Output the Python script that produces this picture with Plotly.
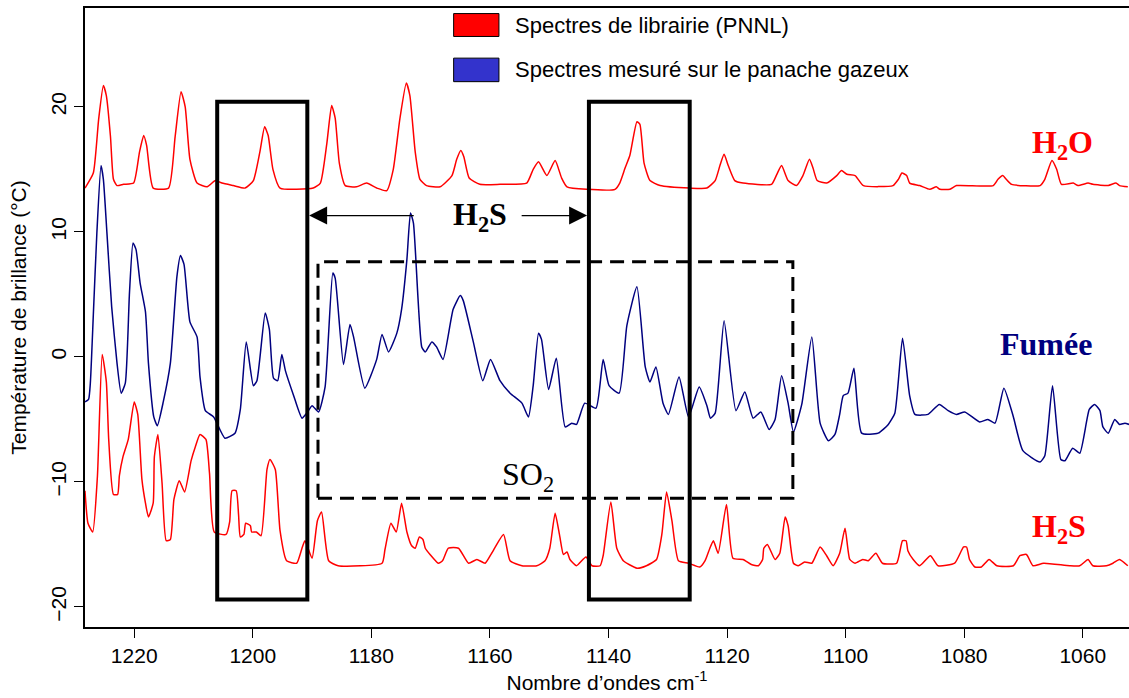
import plotly.graph_objects as go

# Nombre d'onde (cm-1), Température de brillance (°C)
h2o = [
    (1228.3, 13.5), (1226.9, 14.7), (1226.0, 19.0), (1225.2, 21.7), (1224.7, 20.9), (1224.0, 17.6),
    (1223.5, 14.2), (1222.9, 13.7), (1221.8, 13.8), (1220.1, 13.9), (1219.1, 16.4), (1218.4, 17.7),
    (1217.9, 16.9), (1216.8, 13.5), (1214.2, 13.5), (1213.1, 17.6), (1212.1, 21.2), (1211.4, 20.0),
    (1210.6, 15.8), (1209.4, 13.9), (1207.7, 13.6), (1206.3, 14.1), (1205.2, 13.9), (1203.3, 13.7),
    (1201.3, 13.5), (1199.9, 14.1), (1198.8, 16.4), (1198.0, 18.4), (1197.4, 17.7), (1196.6, 15.0),
    (1195.4, 13.5), (1189.8, 13.5), (1188.6, 13.9), (1187.5, 17.1), (1186.7, 20.1), (1186.1, 19.1),
    (1185.4, 15.5), (1184.4, 13.7), (1182.5, 13.6), (1180.8, 13.9), (1179.1, 13.5), (1177.4, 13.3),
    (1176.3, 15.0), (1175.2, 19.0), (1174.1, 21.9), (1173.5, 20.9), (1172.6, 16.4), (1171.8, 14.2),
    (1170.7, 13.7), (1168.4, 13.6), (1166.4, 14.5), (1165.6, 15.8), (1164.9, 16.5), (1164.4, 16.0),
    (1163.5, 14.3), (1161.7, 13.8), (1158.3, 13.8), (1153.8, 13.9), (1152.7, 15.0), (1151.8, 15.6),
    (1150.4, 14.5), (1149.0, 15.7), (1147.9, 14.3), (1147.0, 13.6), (1143.7, 13.4), (1138.9, 13.4),
    (1138.1, 13.9), (1137.2, 15.1), (1136.4, 16.1), (1135.2, 18.8), (1134.7, 18.6), (1134.0, 15.5),
    (1133.0, 14.1), (1131.3, 13.7), (1126.3, 13.5), (1123.4, 13.5), (1122.0, 14.1), (1121.2, 15.3),
    (1120.5, 16.2), (1119.8, 15.3), (1118.7, 14.1), (1117.3, 13.9), (1112.5, 13.8), (1111.6, 14.6),
    (1110.8, 15.3), (1109.7, 14.1), (1108.3, 13.7), (1107.2, 14.5), (1106.1, 15.8), (1105.5, 15.1),
    (1104.8, 14.1), (1103.2, 13.9), (1101.5, 14.5), (1100.7, 14.9), (1099.8, 14.6), (1098.4, 14.5),
    (1097.0, 13.7), (1092.0, 13.7), (1091.1, 14.2), (1090.5, 14.7), (1089.7, 14.5), (1089.2, 13.9),
    (1087.5, 13.7), (1085.8, 13.4), (1084.7, 13.6), (1084.1, 13.4), (1082.4, 13.4), (1081.3, 13.7),
    (1075.1, 13.7), (1074.3, 14.2), (1073.5, 14.5), (1072.9, 14.2), (1072.0, 13.8), (1067.2, 13.7),
    (1066.4, 14.2), (1065.2, 15.7), (1064.4, 15.0), (1063.6, 13.8), (1061.6, 13.9), (1060.8, 13.7),
    (1059.1, 13.9), (1058.3, 13.8), (1055.7, 13.7), (1054.4, 13.9), (1053.8, 13.7), (1052.4, 13.6),
]

fumee = [
    (1228.3, -3.6), (1227.7, -3.4), (1227.4, -2.1), (1226.9, 3.3), (1226.3, 9.9), (1225.6, 15.3),
    (1225.2, 14.2), (1224.6, 9.9), (1223.8, 4.0), (1222.9, -0.5), (1222.2, -2.9), (1221.5, -2.1),
    (1220.8, 5.1), (1220.2, 9.1), (1219.7, 8.6), (1219.0, 5.9), (1218.1, 3.6), (1217.6, -0.5),
    (1216.7, -4.8), (1216.1, -5.5), (1215.1, -3.6), (1213.9, -0.5), (1212.8, 6.4), (1212.2, 8.1),
    (1211.6, 7.4), (1210.6, 2.8), (1209.4, 1.6), (1208.9, -1.6), (1208.0, -4.3), (1206.6, -4.8),
    (1204.7, -6.5), (1203.0, -6.1), (1202.1, -4.2), (1201.1, 1.2), (1199.9, -2.3), (1199.3, -1.9),
    (1197.9, 3.5), (1197.2, 2.2), (1196.5, -1.7), (1195.8, -1.9), (1195.1, 0.2), (1194.5, -1.1),
    (1193.1, -3.1), (1191.7, -4.9), (1190.9, -4.5), (1190.0, -3.9), (1188.9, -4.4), (1187.8, -2.4),
    (1186.5, 6.7), (1186.1, 6.3), (1184.7, -0.6), (1183.6, 2.6), (1183.0, 1.6), (1181.1, -2.5),
    (1179.1, -0.2), (1178.2, 1.8), (1177.1, 0.4), (1175.7, 1.9), (1174.9, 3.8), (1174.0, 7.8),
    (1173.4, 11.5), (1172.9, 10.7), (1171.5, 0.8), (1170.9, 0.4), (1169.8, 1.2), (1169.0, 0.8),
    (1167.9, -0.2), (1166.2, 3.8), (1165.0, 4.9), (1164.5, 4.5), (1162.8, 1.2), (1161.2, -1.9),
    (1159.9, -0.2), (1158.3, -1.9), (1156.6, -2.9), (1154.6, -3.7), (1153.5, -4.8), (1152.7, -2.3),
    (1151.8, 1.9), (1151.3, 1.4), (1150.1, -2.6), (1148.8, -0.1), (1147.3, -5.6), (1146.2, -5.3),
    (1145.4, -5.4), (1144.0, -3.7), (1142.1, -4.1), (1140.9, -0.2), (1139.9, -2.3), (1138.2, -2.9),
    (1136.9, 2.5), (1135.2, 5.6), (1133.8, -0.8), (1133.0, -2.0), (1132.0, -0.8), (1130.8, -3.7),
    (1129.9, -4.6), (1128.1, -1.6), (1126.5, -4.8), (1124.7, -2.4), (1123.4, -3.9), (1122.8, -4.9),
    (1122.0, -4.5), (1120.5, 2.9), (1118.5, -4.3), (1117.0, -2.8), (1115.6, -4.9), (1114.3, -4.4),
    (1112.9, -5.8), (1111.9, -5.0), (1110.8, -1.5), (1109.7, -3.7), (1108.8, -6.0), (1107.4, -3.8),
    (1105.7, 1.6), (1104.3, -5.3), (1102.9, -6.7), (1101.8, -6.2), (1101.0, -4.6), (1100.4, -3.1),
    (1099.6, -2.9), (1098.6, -0.9), (1097.3, -6.1), (1094.5, -6.1), (1092.8, -5.4), (1091.7, -4.5),
    (1090.4, 1.5), (1089.2, -3.1), (1088.3, -4.6), (1086.1, -4.6), (1084.2, -3.8), (1082.7, -4.3),
    (1081.3, -4.6), (1079.9, -4.4), (1077.4, -5.2), (1076.0, -5.0), (1074.8, -5.3), (1073.3, -2.5),
    (1071.7, -4.8), (1070.1, -7.5), (1067.2, -8.4), (1066.4, -7.9), (1065.1, -2.3), (1063.7, -8.2),
    (1063.0, -8.3), (1061.7, -7.3), (1060.5, -7.7), (1058.9, -4.2), (1058.0, -3.8), (1057.1, -4.3),
    (1056.6, -5.6), (1055.7, -6.1), (1054.6, -5.0), (1053.8, -5.4), (1052.9, -5.3), (1052.2, -5.4),
]

h2s = [
    (1228.3, -10.7), (1227.8, -13.3), (1227.0, -14.0), (1226.2, -9.5), (1225.4, 0.2), (1224.7, -2.0),
    (1224.3, -6.6), (1223.5, -11.0), (1222.8, -11.0), (1222.5, -9.5), (1221.9, -8.0), (1221.0, -6.6),
    (1220.0, -3.6), (1219.4, -4.6), (1218.7, -9.8), (1218.1, -11.7), (1217.6, -12.8), (1216.8, -11.7),
    (1216.6, -8.0), (1216.0, -6.2), (1215.3, -10.1), (1214.6, -14.7), (1213.9, -14.6), (1213.3, -11.4),
    (1212.4, -9.9), (1211.5, -10.8), (1210.4, -8.3), (1209.7, -7.2), (1208.9, -6.2), (1207.9, -6.6),
    (1207.3, -9.3), (1206.5, -14.0), (1204.5, -14.2), (1203.9, -13.2), (1203.5, -10.7), (1202.8, -10.7),
    (1202.4, -12.6), (1202.1, -14.4), (1201.5, -14.2), (1201.2, -13.3), (1200.4, -13.5), (1200.2, -14.0),
    (1199.4, -14.0), (1198.6, -14.3), (1197.6, -9.0), (1197.1, -8.2), (1196.2, -9.0), (1195.4, -13.9),
    (1194.3, -16.3), (1192.6, -16.5), (1191.7, -15.3), (1191.2, -14.7), (1190.0, -16.1), (1189.1, -13.1),
    (1188.4, -12.4), (1187.2, -16.3), (1185.6, -16.7), (1178.2, -16.5), (1177.7, -15.4), (1176.7, -13.3),
    (1175.8, -14.0), (1174.9, -11.7), (1174.0, -14.0), (1173.2, -15.1), (1172.6, -15.3), (1171.9, -14.4),
    (1171.3, -14.6), (1170.9, -15.3), (1170.1, -15.8), (1168.7, -16.5), (1168.0, -16.3), (1167.0, -15.3),
    (1165.3, -15.3), (1163.6, -16.5), (1162.2, -16.2), (1160.8, -16.5), (1159.7, -15.7), (1157.7, -14.2),
    (1156.6, -16.3), (1154.6, -16.7), (1152.1, -16.7), (1150.7, -16.3), (1149.9, -15.3), (1149.0, -12.5),
    (1148.2, -14.4), (1147.6, -15.8), (1147.0, -15.6), (1146.5, -16.2), (1145.4, -16.7), (1143.8, -16.0),
    (1142.8, -16.7), (1141.4, -16.7), (1140.9, -15.9), (1139.6, -11.6), (1138.6, -15.3), (1137.5, -16.3),
    (1135.2, -16.9), (1133.6, -16.7), (1131.9, -16.2), (1131.0, -14.2), (1130.2, -10.8), (1129.3, -13.1),
    (1128.2, -16.3), (1126.5, -16.5), (1124.6, -16.8), (1123.7, -16.3), (1122.9, -15.3), (1122.3, -14.7),
    (1121.5, -15.7), (1120.1, -11.8), (1119.0, -16.1), (1117.3, -16.2), (1115.9, -16.6), (1114.7, -16.7),
    (1114.0, -16.2), (1113.8, -15.3), (1113.2, -15.0), (1111.9, -16.2), (1111.1, -15.7), (1110.2, -12.8),
    (1109.7, -13.5), (1108.8, -16.5), (1108.0, -16.7), (1106.9, -16.4), (1105.7, -16.5), (1104.3, -15.2),
    (1103.2, -15.9), (1102.1, -16.7), (1101.0, -15.7), (1100.1, -13.7), (1099.3, -16.2), (1098.4, -16.5),
    (1097.1, -16.2), (1096.2, -16.3), (1094.9, -15.7), (1093.8, -16.5), (1091.4, -16.5), (1090.4, -14.7),
    (1089.8, -14.7), (1089.5, -15.5), (1088.6, -16.2), (1087.5, -16.7), (1085.7, -15.9), (1084.4, -16.7),
    (1081.6, -16.5), (1080.1, -15.2), (1079.6, -15.2), (1079.1, -16.2), (1078.2, -16.8), (1077.1, -16.8),
    (1075.8, -16.2), (1074.5, -16.7), (1071.7, -16.7), (1070.6, -15.9), (1069.5, -15.8), (1068.4, -16.7),
    (1066.6, -16.5), (1062.2, -16.7), (1060.5, -16.7), (1059.1, -16.2), (1058.3, -16.7), (1056.0, -16.7),
    (1054.9, -16.5), (1053.8, -16.2), (1052.4, -16.7),
]

# zones marquées sur la figure (cm-1)
boites_h2s = [(1206.0, 1190.8), (1143.3, 1126.3)]
boite_so2 = (1189.0, 1108.9, -11.3, 7.6)
x_ticks = [1220, 1200, 1180, 1160, 1140, 1120, 1100, 1080, 1060]
y_ticks = [-20, -10, 0, 10, 20]

RED = "#ff0000"
NAVY = "#00007f"
SANS = "Liberation Sans"
SERIF = "Liberation Serif"

fig = go.Figure()
for data, col in [(h2o, RED), (fumee, NAVY), (h2s, RED)]:
    fig.add_trace(go.Scatter(
        x=[p[0] for p in data], y=[p[1] for p in data],
        mode="lines", line=dict(color=col, width=1.5, shape="spline", smoothing=0.5),
        showlegend=False, hoverinfo="skip",
    ))

# boites noires (H2S)
for x0, x1 in boites_h2s:
    fig.add_shape(type="rect", xref="x", yref="y", x0=x0, x1=x1, y0=-19.4, y1=20.4,
                  line=dict(color="black", width=4))

# boite SO2 en tirets
bx0, bx1, by0, by1 = boite_so2
fig.add_shape(type="rect", xref="x", yref="y", x0=bx0, x1=bx1, y0=by0, y1=by1,
              line=dict(color="black", width=3, dash="14px,8px"))

# fleches H2S
for head, tail in [(1190.5, 1172.6), (1143.6, 1154.9)]:
    fig.add_annotation(x=head, y=11.3, ax=tail, ay=11.3, axref="x", ayref="y",
                       text="", showarrow=True, arrowhead=2, arrowsize=3,
                       arrowwidth=1.2, arrowcolor="black")

def label(txt, x, y, col, bold=True):
    fig.add_annotation(x=x, y=y, xref="x", yref="y", text=txt, showarrow=False,
                       font=dict(family=SERIF, size=32, color=col,
                                 weight="bold" if bold else "normal"))

label("H<sub>2</sub>S", 1161.7, 11.2, "black")
label("H<sub>2</sub>O", 1063.4, 17.0, RED)
label("Fumée", 1066.2, 1.0, NAVY)
label("SO<sub>2</sub>", 1153.6, -9.6, "black", bold=False)
label("H<sub>2</sub>S", 1064.0, -13.7, RED)

# legende
for (y0, y1), col, txt in [((0.954, 0.991), RED, "Spectres de librairie (PNNL)"),
                           ((0.881, 0.919), "#3333cc", "Spectres mesuré sur le panache gazeux")]:
    fig.add_shape(type="rect", xref="paper", yref="paper", x0=0.3531, x1=0.3965,
                  y0=y0, y1=y1, fillcolor=col, line=dict(color="black", width=1))
    fig.add_annotation(x=0.41, y=(y0 + y1) / 2, xref="paper", yref="paper", text=txt,
                       showarrow=False, xanchor="left", yanchor="middle",
                       font=dict(family=SANS, size=22, color="black"))

fig.update_layout(
    width=1129, height=698,
    margin=dict(l=85, r=0, t=8, b=71),
    plot_bgcolor="white", paper_bgcolor="white",
    font=dict(family=SANS, color="black"),
    xaxis=dict(
        range=[1228.3, 1052.2], tickvals=x_ticks, ticks="outside", ticklen=9,
        tickwidth=1.2, tickcolor="black", showline=True, linecolor="black",
        linewidth=1.5, mirror=True, showgrid=False, zeroline=False,
        tickfont=dict(size=21), automargin=False,
        title=dict(text="Nombre d’ondes cm<sup>-1</sup>", font=dict(size=21), standoff=9),
    ),
    yaxis=dict(
        range=[-21.6, 27.9], tickvals=y_ticks, ticks="outside", ticklen=9,
        tickwidth=1.2, tickcolor="black", showline=True, linecolor="black",
        linewidth=1.5, showgrid=False, zeroline=False, tickangle=-90,
        tickfont=dict(size=21), automargin=False,
        title=dict(text="Température de brillance (°C)", font=dict(size=21), standoff=14),
    ),
)

fig.write_html("out.html", config={"displayModeBar": False},
               post_script="document.body.style.margin='0';")
